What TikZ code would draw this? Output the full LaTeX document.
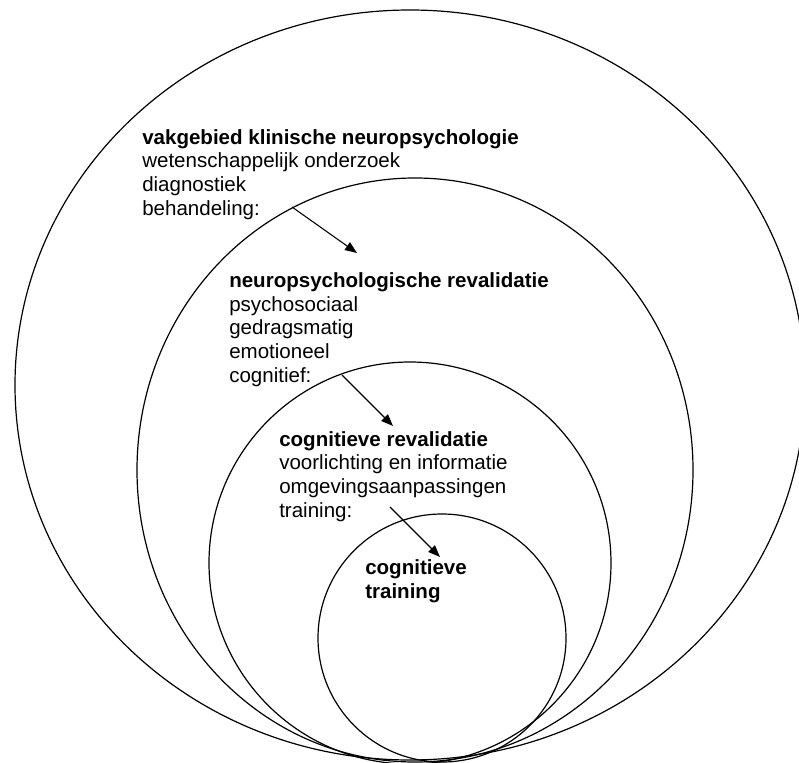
\documentclass[tikz,border=0pt]{standalone}
\usepackage{fontspec}
\setmainfont{Liberation Sans}
\usetikzlibrary{arrows.meta}
\tikzset{
  ring/.style={draw, line width=0.9pt},
  blocktext/.style={anchor=base west, inner sep=0pt, align=left,
    font=\fontsize{15.4}{17.7}\selectfont},
  pointer/.style={-{Triangle[length=9pt,width=7pt]}, line width=0.8pt}
}
\begin{document}
\begin{tikzpicture}[x=0.75pt,y=-0.75pt]
      \useasboundingbox (0,0) rectangle (799,763);
      % nested fields
      \draw[ring] (410,385) ellipse [x radius=395, y radius=375];
      \draw[ring] (415,470) ellipse [x radius=278, y radius=292];
      \draw[ring] (410,563) circle [radius=201];
      \draw[ring] (442,638) circle [radius=124];
      % text blocks, placed at the baseline of their last line
      \draw
        (142,215) node[blocktext] (vak){\textbf{vakgebied klinische neuropsychologie}\\
          wetenschappelijk onderzoek\\diagnostiek\\behandeling:}
        (229,382) node[blocktext] (neuro){\textbf{neuropsychologische revalidatie}\\
          psychosociaal\\gedragsmatig\\emotioneel\\cognitief:}
        (279,517) node[blocktext] (cogrev){\textbf{cognitieve revalidatie}\\
          voorlichting en informatie\\omgevingsaanpassingen\\training:}
        (365,598) node[blocktext] (cogtr){\textbf{cognitieve}\\\textbf{training}};
      \coordinate (s1) at (292,207);
      \coordinate (e1) at (357,253);
      \coordinate (s2) at (342,375);
      \coordinate (e2) at (393,426);
      \coordinate (s3) at (390,507);
      \coordinate (e3) at (440,557);
      \begin{scope}[pointer]
        \draw (s1) to (e1);
        \draw (s2) to (e2);
        \draw (s3) to (e3);
      \end{scope}
    \end{tikzpicture}
\end{document}
